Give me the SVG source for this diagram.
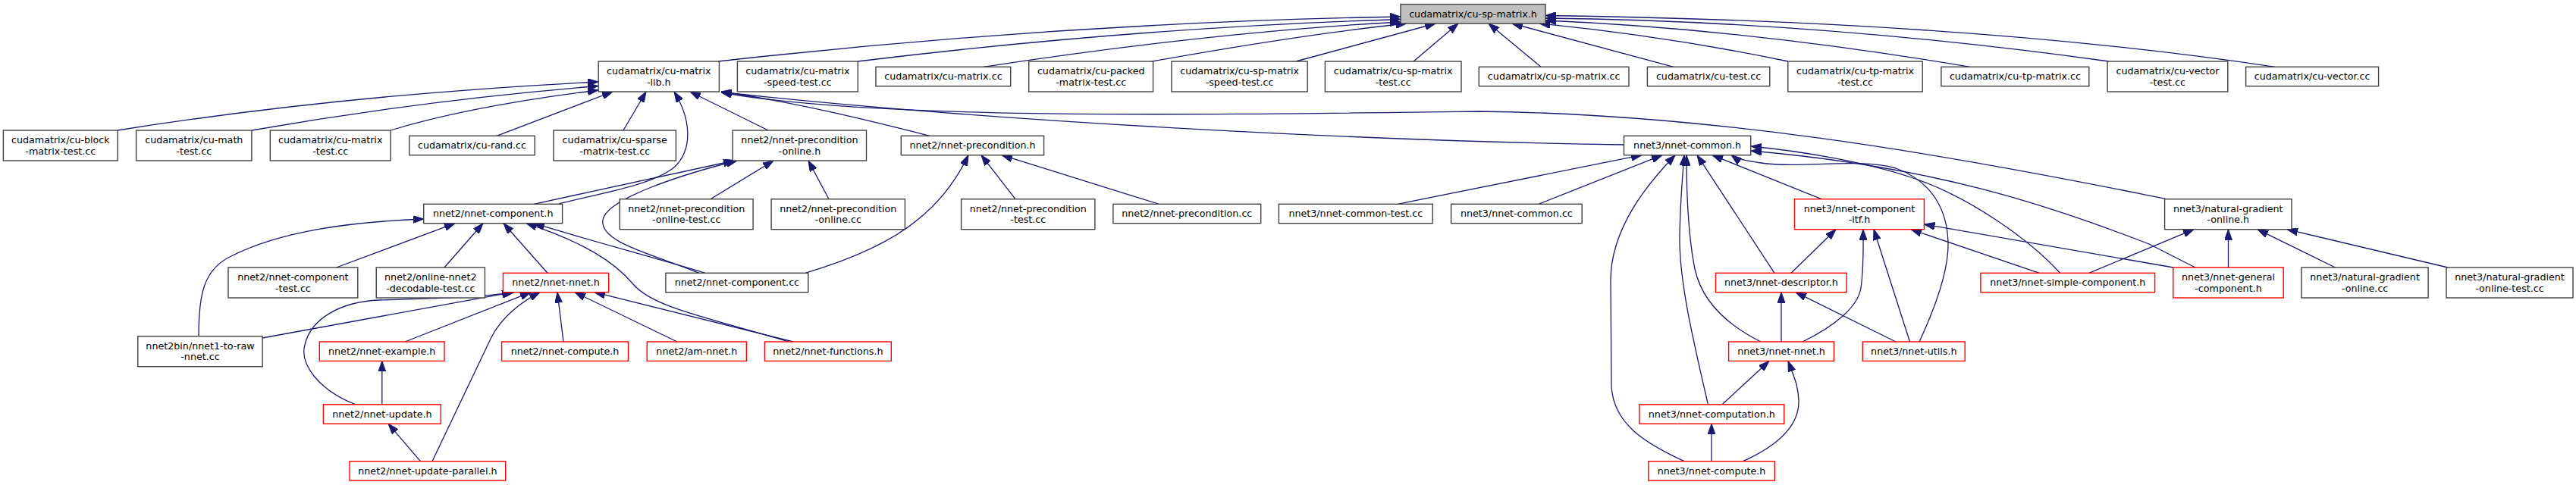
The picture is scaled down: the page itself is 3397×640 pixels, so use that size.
<svg xmlns="http://www.w3.org/2000/svg" width="3397" height="640" viewBox="0 0 3397 640">
<defs>
<style>
.n{fill:#fff;stroke:#404040;stroke-width:1.4}
.r{fill:#fff;stroke:#ff0000;stroke-width:1.4}
.root{fill:#bfbfbf;stroke:#404040;stroke-width:1.4}
.e path{fill:none;stroke:#191970;stroke-width:1.3;marker-end:url(#ah)}
text{font-family:"DejaVu Sans","Liberation Sans",sans-serif;font-size:12.7px;fill:#000;text-anchor:middle}
</style>
<marker id="ah" viewBox="0 0 14 10" refX="14" refY="5" markerWidth="14" markerHeight="10" markerUnits="userSpaceOnUse" orient="auto"><path d="M0,0 L14,5 L0,10 z" fill="#191970" stroke="#191970" stroke-width="1"/></marker>
</defs>
<rect width="3397" height="640" fill="#fff"/>
<g id="edges" class="e">
<path d="M947,81 Q1400,30 1847,22"/>
<path d="M1131,81 Q1500,36 1847,25.5"/>
<path d="M1297,88.3 Q1600,42 1847,29"/>
<path d="M1519,81 Q1720,45 1855,31"/>
<path d="M1709,81 L1893,31"/>
<path d="M1864,81 L1923,31"/>
<path d="M2032,88.3 L1963,31"/>
<path d="M2207,88.3 L1994,31"/>
<path d="M2358,81 Q2200,48 2030,31"/>
<path d="M2598,88.3 Q2300,38 2038,27"/>
<path d="M2781,81 Q2400,28 2038,24"/>
<path d="M3000,88.3 Q2600,28 2038,20.5"/>
<path d="M155,172 Q450,125 789,108"/>
<path d="M332,172 Q560,132 789,113.5"/>
<path d="M515,172 Q620,140 789,119"/>
<path d="M655,179.3 L808,121"/>
<path d="M822,172 L852,121"/>
<path d="M737,269 C790,255 860,245 890,220 C915,195 910,155 889,121"/>
<path d="M1013,172 L910,121"/>
<path d="M1226,179.3 C1150,160 1050,135 951,121"/>
<path d="M2141.5,191 C1800,186 1300,160 951,121.5"/>
<path d="M2857,262.7 C2550,200 2250,150 1950,147 C1550,152 1150,158 951,122"/>
<path d="M704,269.3 L968,212"/>
<path d="M922,360.3 C860,335 790,320 795,290 C800,262 900,230 972,212"/>
<path d="M937,262.7 L1020,212"/>
<path d="M1093,262.7 L1066,212"/>
<path d="M1339,262.7 L1294,204.7"/>
<path d="M1528,269.3 L1321,204.7"/>
<path d="M1062,360.3 C1130,340 1180,315 1210,290 C1245,262 1265,230 1277,204.7"/>
<path d="M262,443.7 C262,390 268,355 305,338 C370,305 460,293 558.7,289"/>
<path d="M443.5,353 L600,294.7"/>
<path d="M586,353 L637,294.7"/>
<path d="M722,360.3 L664,294.7"/>
<path d="M930,360.3 C870,342 780,318 704,294.7"/>
<path d="M1040,451 C930,418 860,405 835,375 C810,345 770,320 694,294.7"/>
<path d="M346,446 L676,385.7"/>
<path d="M469,533.8 C420,515 395,480 402,455 C410,420 450,398 500,396 C560,394 630,393 678,385.7"/>
<path d="M570,608.7 L648,445 C662,418 688,398 712,385.7"/>
<path d="M534,451 L700,385.7"/>
<path d="M743,451 L735,385.7"/>
<path d="M893,451 L758,385.7"/>
<path d="M1046,451 L784,385.7"/>
<path d="M503.8,533.8 L503.8,476.4"/>
<path d="M554.4,608.7 L512,559.2"/>
<path d="M1843,269.3 L2165,204.7"/>
<path d="M2029,269.3 L2192,204.7"/>
<path d="M2221,608.7 C2170,585 2128,560 2125,510 L2124,370 C2124,300 2175,240 2209,204.7"/>
<path d="M2252.4,533.8 C2232,445 2214,370 2215,310 C2216,260 2219,230 2221,204.7"/>
<path d="M2322,451 C2280,430 2245,400 2235,355 C2226,310 2224,250 2224,204.7"/>
<path d="M2340,360.3 L2238,204.7"/>
<path d="M2402,262.7 L2258,204.7"/>
<path d="M2531,451 C2550,410 2570,360 2569,320 C2568,280 2550,240 2500,222 C2450,208 2380,222 2330,216 C2305,213 2290,210 2283,204.7"/>
<path d="M2716.6,360.3 C2680,320 2600,260 2520,234 C2460,214 2380,200 2309,193"/>
<path d="M2895,353 L2834,322 C2700,270 2550,220 2309,199"/>
<path d="M2362,360.3 L2421,302.7"/>
<path d="M2377,451 C2420,430 2450,405 2454,380 C2458,350 2457,320 2457,302.7"/>
<path d="M2518.5,451 L2471,302.7"/>
<path d="M2689.3,360.3 L2520,302.7"/>
<path d="M2866,353 L2537.4,296"/>
<path d="M2754.8,360.3 L2893,302.7"/>
<path d="M2938.5,353 L2938.5,302.7"/>
<path d="M3079.5,353 L2977,302.7"/>
<path d="M3228,353 L3016,302.7"/>
<path d="M2349,451 L2349,385.7"/>
<path d="M2500,451 L2368,385.7"/>
<path d="M2271,533.8 L2333,476.4"/>
<path d="M2298.5,608.7 C2340,590 2372,565 2372,530 C2372,510 2365,495 2358,476.4"/>
<path d="M2257,608.7 L2257,559.2"/>
</g>
<g id="n_root"><rect class="root" x="1847" y="5.6" width="191" height="25.4"/><text x="1942.5" y="22.7">cudamatrix/cu-sp-matrix.h</text></g>
<g id="n_lib"><rect class="n" x="789.2" y="81" width="159.2" height="40"/><text x="868.8" y="98">cudamatrix/cu-matrix</text><text x="868.8" y="112.7">-lib.h</text></g>
<g id="n_speed"><rect class="n" x="972.4" y="81" width="158.9" height="40"/><text x="1051.9" y="98">cudamatrix/cu-matrix</text><text x="1051.9" y="112.7">-speed-test.cc</text></g>
<g id="n_matrixcc"><rect class="n" x="1155" y="88.3" width="177.7" height="25.4"/><text x="1243.9" y="105.4">cudamatrix/cu-matrix.cc</text></g>
<g id="n_packed"><rect class="n" x="1356.7" y="81" width="163.9" height="40"/><text x="1438.7" y="98">cudamatrix/cu-packed</text><text x="1438.7" y="112.7">-matrix-test.cc</text></g>
<g id="n_spspeed"><rect class="n" x="1545" y="81" width="179.2" height="40"/><text x="1634.6" y="98">cudamatrix/cu-sp-matrix</text><text x="1634.6" y="112.7">-speed-test.cc</text></g>
<g id="n_sptest"><rect class="n" x="1747.4" y="81" width="179.6" height="40"/><text x="1837.2" y="98">cudamatrix/cu-sp-matrix</text><text x="1837.2" y="112.7">-test.cc</text></g>
<g id="n_spcc"><rect class="n" x="1950.3" y="88.3" width="197.7" height="25.4"/><text x="2049.2" y="105.4">cudamatrix/cu-sp-matrix.cc</text></g>
<g id="n_cutest"><rect class="n" x="2172.4" y="88.3" width="161.4" height="25.4"/><text x="2253.1" y="105.4">cudamatrix/cu-test.cc</text></g>
<g id="n_tptest"><rect class="n" x="2357.8" y="81" width="177.4" height="40"/><text x="2446.5" y="98">cudamatrix/cu-tp-matrix</text><text x="2446.5" y="112.7">-test.cc</text></g>
<g id="n_tpcc"><rect class="n" x="2559.9" y="88.3" width="194.9" height="25.4"/><text x="2657.4" y="105.4">cudamatrix/cu-tp-matrix.cc</text></g>
<g id="n_vectest"><rect class="n" x="2779.1" y="81" width="158.7" height="40"/><text x="2858.5" y="98">cudamatrix/cu-vector</text><text x="2858.5" y="112.7">-test.cc</text></g>
<g id="n_veccc"><rect class="n" x="2961.6" y="88.3" width="175" height="25.4"/><text x="3049.1" y="105.4">cudamatrix/cu-vector.cc</text></g>
<g id="n_block"><rect class="n" x="4.4" y="172" width="150.8" height="40"/><text x="79.8" y="189">cudamatrix/cu-block</text><text x="79.8" y="203.7">-matrix-test.cc</text></g>
<g id="n_math"><rect class="n" x="179.6" y="172" width="152.3" height="40"/><text x="255.8" y="189">cudamatrix/cu-math</text><text x="255.8" y="203.7">-test.cc</text></g>
<g id="n_mtest"><rect class="n" x="356.3" y="172" width="158.8" height="40"/><text x="435.7" y="189">cudamatrix/cu-matrix</text><text x="435.7" y="203.7">-test.cc</text></g>
<g id="n_rand"><rect class="n" x="539.8" y="179.3" width="165.4" height="25.4"/><text x="622.5" y="196.4">cudamatrix/cu-rand.cc</text></g>
<g id="n_sparse"><rect class="n" x="730" y="172" width="161.4" height="40"/><text x="810.7" y="189">cudamatrix/cu-sparse</text><text x="810.7" y="203.7">-matrix-test.cc</text></g>
<g id="n_preonlineh"><rect class="n" x="966.2" y="172" width="176.3" height="40"/><text x="1054.4" y="189">nnet2/nnet-precondition</text><text x="1054.4" y="203.7">-online.h</text></g>
<g id="n_preh"><rect class="n" x="1188.3" y="179.3" width="188.3" height="25.4"/><text x="1282.5" y="196.4">nnet2/nnet-precondition.h</text></g>
<g id="n_commonh"><rect class="n" x="2141.5" y="179.3" width="167.2" height="25.4"/><text x="2225.1" y="196.4">nnet3/nnet-common.h</text></g>
<g id="n_n2comph"><rect class="n" x="558.7" y="269.3" width="182.9" height="25.4"/><text x="650.2" y="286.4">nnet2/nnet-component.h</text></g>
<g id="n_preonlinetest"><rect class="n" x="817.2" y="262.7" width="175.9" height="40"/><text x="905.2" y="279.7">nnet2/nnet-precondition</text><text x="905.2" y="294.4">-online-test.cc</text></g>
<g id="n_preonlinecc"><rect class="n" x="1017.1" y="262.7" width="176.3" height="40"/><text x="1105.3" y="279.7">nnet2/nnet-precondition</text><text x="1105.3" y="294.4">-online.cc</text></g>
<g id="n_pretest"><rect class="n" x="1267.6" y="262.7" width="176.3" height="40"/><text x="1355.8" y="279.7">nnet2/nnet-precondition</text><text x="1355.8" y="294.4">-test.cc</text></g>
<g id="n_precc"><rect class="n" x="1467.9" y="269.3" width="194.8" height="25.4"/><text x="1565.3" y="286.4">nnet2/nnet-precondition.cc</text></g>
<g id="n_commontest"><rect class="n" x="1686.4" y="269.3" width="202.8" height="25.4"/><text x="1787.8" y="286.4">nnet3/nnet-common-test.cc</text></g>
<g id="n_commoncc"><rect class="n" x="1913.6" y="269.3" width="172.6" height="25.4"/><text x="1999.9" y="286.4">nnet3/nnet-common.cc</text></g>
<g id="n_itf"><rect class="r" x="2366.5" y="262.7" width="170.9" height="40"/><text x="2452" y="279.7">nnet3/nnet-component</text><text x="2452" y="294.4">-itf.h</text></g>
<g id="n_ngh"><rect class="n" x="2854.6" y="262.7" width="167.4" height="40"/><text x="2938.3" y="279.7">nnet3/natural-gradient</text><text x="2938.3" y="294.4">-online.h</text></g>
<g id="n_comptest"><rect class="n" x="301" y="353" width="170.8" height="40"/><text x="386.4" y="370">nnet2/nnet-component</text><text x="386.4" y="384.7">-test.cc</text></g>
<g id="n_decodable"><rect class="n" x="496.2" y="353" width="143.2" height="40"/><text x="567.8" y="370">nnet2/online-nnet2</text><text x="567.8" y="384.7">-decodable-test.cc</text></g>
<g id="n_n2nnet"><rect class="r" x="663.4" y="360.3" width="139.3" height="25.4"/><text x="733.1" y="377.4">nnet2/nnet-nnet.h</text></g>
<g id="n_compcc"><rect class="n" x="877.9" y="360.3" width="187.9" height="25.4"/><text x="971.9" y="377.4">nnet2/nnet-component.cc</text></g>
<g id="n_descriptor"><rect class="r" x="2262.5" y="360.3" width="172.7" height="25.4"/><text x="2348.9" y="377.4">nnet3/nnet-descriptor.h</text></g>
<g id="n_simple"><rect class="r" x="2611.9" y="360.3" width="229.7" height="25.4"/><text x="2726.8" y="377.4">nnet3/nnet-simple-component.h</text></g>
<g id="n_general"><rect class="r" x="2865.8" y="353" width="145.4" height="40"/><text x="2938.5" y="370">nnet3/nnet-general</text><text x="2938.5" y="384.7">-component.h</text></g>
<g id="n_ngcc"><rect class="n" x="3035" y="353" width="167.1" height="40"/><text x="3118.6" y="370">nnet3/natural-gradient</text><text x="3118.6" y="384.7">-online.cc</text></g>
<g id="n_ngtest"><rect class="n" x="3226" y="353" width="167" height="40"/><text x="3309.5" y="370">nnet3/natural-gradient</text><text x="3309.5" y="384.7">-online-test.cc</text></g>
<g id="n_n1toraw"><rect class="n" x="181.8" y="443.7" width="164.3" height="40"/><text x="264" y="460.7">nnet2bin/nnet1-to-raw</text><text x="264" y="475.4">-nnet.cc</text></g>
<g id="n_example"><rect class="r" x="421.3" y="451" width="164.7" height="25.4"/><text x="503.7" y="468.1">nnet2/nnet-example.h</text></g>
<g id="n_n2compute"><rect class="r" x="661.6" y="451" width="166.9" height="25.4"/><text x="745" y="468.1">nnet2/nnet-compute.h</text></g>
<g id="n_amnnet"><rect class="r" x="853.2" y="451" width="131.2" height="25.4"/><text x="918.8" y="468.1">nnet2/am-nnet.h</text></g>
<g id="n_functions"><rect class="r" x="1008.4" y="451" width="166.9" height="25.4"/><text x="1091.9" y="468.1">nnet2/nnet-functions.h</text></g>
<g id="n_n3nnet"><rect class="r" x="2279.6" y="451" width="138.9" height="25.4"/><text x="2349" y="468.1">nnet3/nnet-nnet.h</text></g>
<g id="n_utils"><rect class="r" x="2456.3" y="451" width="134.9" height="25.4"/><text x="2523.8" y="468.1">nnet3/nnet-utils.h</text></g>
<g id="n_update"><rect class="r" x="426.4" y="533.8" width="154.9" height="25.4"/><text x="503.9" y="550.9">nnet2/nnet-update.h</text></g>
<g id="n_computation"><rect class="r" x="2161.9" y="533.8" width="190.8" height="25.4"/><text x="2257.3" y="550.9">nnet3/nnet-computation.h</text></g>
<g id="n_updpar"><rect class="r" x="461" y="608.7" width="205.7" height="25.4"/><text x="563.9" y="625.8">nnet2/nnet-update-parallel.h</text></g>
<g id="n_n3compute"><rect class="r" x="2173.8" y="608.7" width="166.5" height="25.4"/><text x="2257" y="625.8">nnet3/nnet-compute.h</text></g>
</svg>
